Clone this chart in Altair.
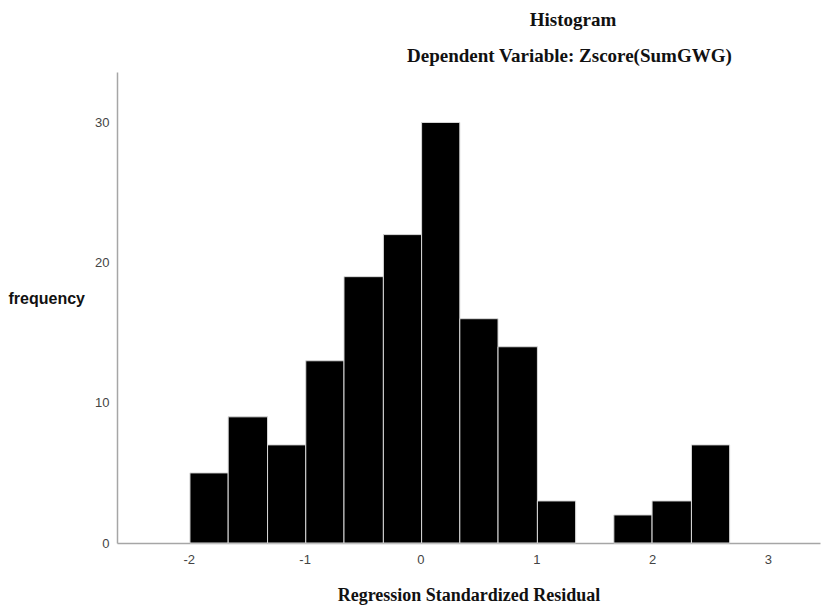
import altair as alt
import pandas as pd

# Bin edges (Regression Standardized Residual) and frequencies
bin_start = [-1.99, -1.66, -1.32, -0.99, -0.66, -0.32, 0.01, 0.34, 0.67, 1.01, 1.34, 1.67, 2.00, 2.34]
bin_end = [-1.66, -1.32, -0.99, -0.66, -0.32, 0.01, 0.34, 0.67, 1.01, 1.34, 1.67, 2.00, 2.34, 2.67]
frequency = [5, 9, 7, 13, 19, 22, 30, 16, 14, 3, 0, 2, 3, 7]

x_ticks = [-2, -1, 0, 1, 2, 3]
y_ticks = [0, 10, 20, 30]

title_text = "Histogram"
subtitle_text = "Dependent Variable: Zscore(SumGWG)"
x_title = "Regression Standardized Residual"
y_title = "frequency"

df = pd.DataFrame({"start": bin_start, "end": bin_end, "freq": frequency})
df = df[df["freq"] > 0]

W, H = 703, 471

bars = alt.Chart(df).mark_rect(color="black", stroke="#d9d9d9", strokeWidth=1).encode(
    x=alt.X("start:Q",
            scale=alt.Scale(domain=[-2.62, 3.45], nice=False, zero=False),
            axis=alt.Axis(values=x_ticks, title=x_title, grid=False, ticks=False,
                          domainColor="#a6a6a6", domainWidth=1.5,
                          labelExpr="datum.value + ''",
                          labelFont="Liberation Sans", labelFontSize=13, labelColor="#444444",
                          labelPadding=10,
                          titleFont="Liberation Serif", titleFontSize=18, titleFontWeight="bold",
                          titleColor="#111111", titlePadding=20)),
    x2="end:Q",
    y=alt.Y("freq:Q",
            scale=alt.Scale(domain=[0, 33.6], nice=False),
            axis=alt.Axis(values=y_ticks, title=y_title, grid=False, ticks=False,
                          domainColor="#a6a6a6", domainWidth=1.5,
                          labelFont="Liberation Sans", labelFontSize=13, labelColor="#444444",
                          labelPadding=8,
                          titleFont="Liberation Sans", titleFontSize=16, titleFontWeight="bold",
                          titleColor="#111111", titleAngle=0, titleAlign="left",
                          titleBaseline="middle", titleX=-109, titleY=226)),
    y2=alt.datum(0),
)

title_df = pd.DataFrame({"t": [title_text]})
sub_df = pd.DataFrame({"t": [subtitle_text]})

t1 = alt.Chart(title_df).mark_text(font="Liberation Serif", fontSize=19, fontWeight="bold",
                                   color="#111111", align="center", baseline="middle").encode(
    text="t:N", x=alt.value(456), y=alt.value(-52))
t2 = alt.Chart(sub_df).mark_text(font="Liberation Serif", fontSize=19, fontWeight="bold",
                                 color="#111111", align="left", baseline="middle").encode(
    text="t:N", x=alt.value(290), y=alt.value(-16))

chart = alt.layer(bars, t1, t2).properties(
    width=W, height=H,
    autosize=alt.AutoSizeParams(type="none"),
    padding={"left": 109, "top": 64, "right": 3, "bottom": 62},
).configure_view(strokeWidth=0)

chart.save("out.html", embed_options={"renderer": "svg", "actions": False})
